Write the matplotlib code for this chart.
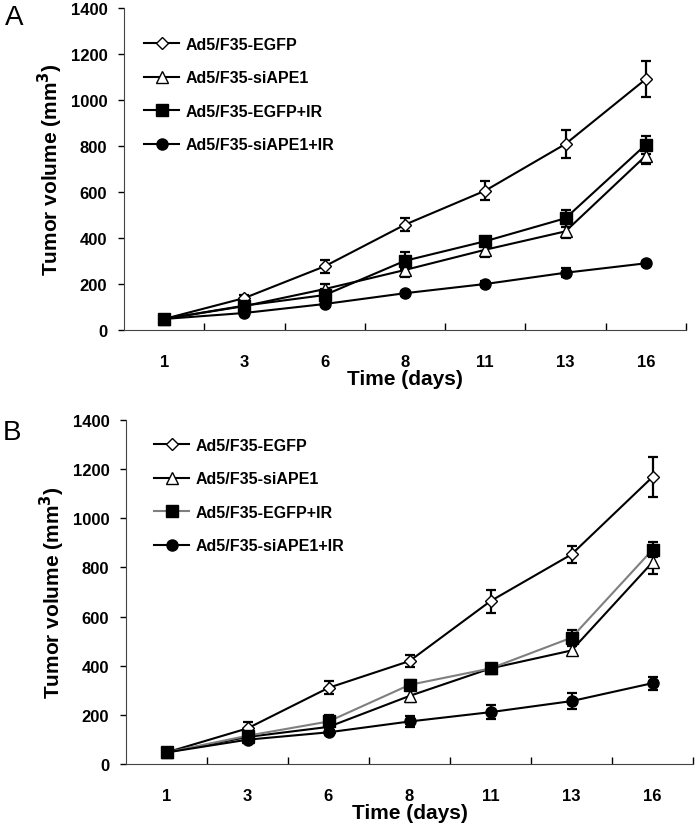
import matplotlib
matplotlib.use('Agg')

import matplotlib.pyplot as plt
import numpy as np

plt.rcParams['font.family'] = ['Liberation Sans', 'DejaVu Sans']

days = ['1', '3', '6', '8', '11', '13', '16']
series_names = ['Ad5/F35-EGFP', 'Ad5/F35-siAPE1', 'Ad5/F35-EGFP+IR', 'Ad5/F35-siAPE1+IR']

# panel A
a_egfp = [48, 139, 277, 458, 606, 809, 1091]
a_siape1 = [48, 104, 178, 261, 349, 429, 758]
a_egfp_ir = [48, 106, 152, 301, 386, 486, 806]
a_siape1_ir = [48, 74, 113, 160, 200, 249, 290]
a_egfp_err = [0, 15, 27, 29, 42, 61, 77]
a_siape1_err = [0, 10, 20, 30, 32, 30, 36]
a_egfp_ir_err = [0, 10, 25, 36, 20, 36, 39]
a_siape1_ir_err = [0, 8, 10, 10, 12, 20, 10]

# panel B
b_egfp = [47, 145, 310, 419, 663, 853, 1168]
b_siape1 = [47, 110, 151, 277, 389, 462, 821]
b_egfp_ir = [47, 115, 173, 322, 389, 514, 872]
b_siape1_ir = [47, 99, 129, 173, 211, 256, 329]
b_egfp_err = [0, 27, 26, 26, 47, 35, 80]
b_siape1_err = [0, 10, 15, 24, 20, 17, 46]
b_egfp_ir_err = [0, 12, 26, 20, 20, 31, 31]
b_siape1_ir_err = [0, 10, 12, 23, 28, 34, 27]

W, H = 696, 829
fig = plt.figure(figsize=(W / 100, H / 100), dpi=100, facecolor='white')

styles = [
    dict(marker='D', mfc='white', ms=6.5),
    dict(marker='^', mfc='white', ms=8),
    dict(marker='s', mfc='black', ms=8),
    dict(marker='o', mfc='black', ms=8),
]


def px_axes(x0, y0, x1, y1):
    return fig.add_axes([x0 / W, 1 - y1 / H, (x1 - x0) / W, (y1 - y0) / H])


def draw_panel(ax, values, errors, line_colors, legend_xy, letter, letter_xy):
    x = np.arange(len(days))
    handles = []
    for vals, errs, st, lc, name in zip(values, errors, styles, line_colors, series_names):
        ax.errorbar(x, vals, yerr=errs, fmt='none', ecolor='black',
                    elinewidth=1.6, capsize=3.5, capthick=1.6, zorder=2)
        h, = ax.plot(x, vals, color=lc, lw=1.5, marker=st['marker'],
                     mfc=st['mfc'], mec='black', mew=1.0, ms=st['ms'],
                     label=name, zorder=3)
        handles.append(h)

    ax.set_xlim(-0.5, len(days) - 0.5)
    ax.set_ylim(0, 1400)
    ax.set_yticks(range(0, 1401, 200))
    ax.set_xticks(x)
    ax.set_xticklabels(days)
    ax.set_xticks(np.arange(0.5, len(days), 1), minor=True)
    ax.tick_params(axis='x', which='major', length=0, pad=17, labelsize=12)
    ax.tick_params(axis='x', which='minor', direction='in', length=5, width=1)
    ax.tick_params(axis='y', direction='out', length=4, width=1, pad=8, labelsize=12)
    for lab in ax.get_xticklabels() + ax.get_yticklabels():
        lab.set_fontweight('bold')
    ax.spines['top'].set_visible(False)
    ax.spines['right'].set_visible(False)
    ax.spines['left'].set_color('#444444')
    ax.spines['bottom'].set_color('#444444')

    ax.set_ylabel('Tumor volume (mm$^\\mathbf{3}$)', fontsize=15, fontweight='bold', labelpad=4)
    ax.set_xlabel('Time (days)', fontsize=15, fontweight='bold', labelpad=0)

    ax.legend(handles=handles, loc='upper left', bbox_to_anchor=legend_xy,
              bbox_transform=fig.transFigure, frameon=False, borderpad=0,
              handlelength=2.2, handletextpad=0.4, labelspacing=1.15,
              prop={'weight': 'bold', 'size': 11.5})

    fig.text(letter_xy[0] / W, 1 - letter_xy[1] / H, letter, fontsize=20,
             ha='left', va='center')


ax_a = px_axes(124, 9, 686, 331)
draw_panel(ax_a,
           [a_egfp, a_siape1, a_egfp_ir, a_siape1_ir],
           [a_egfp_err, a_siape1_err, a_egfp_ir_err, a_siape1_ir_err],
           ['black', 'black', 'black', 'black'],
           (136 / W, 1 - 30 / H), 'A', (5, 18))

ax_b = px_axes(126, 421, 693, 765)
draw_panel(ax_b,
           [b_egfp, b_siape1, b_egfp_ir, b_siape1_ir],
           [b_egfp_err, b_siape1_err, b_egfp_ir_err, b_siape1_ir_err],
           ['black', 'black', '#7f7f7f', 'black'],
           (146 / W, 1 - 431 / H), 'B', (3, 433))

fig.savefig('out.png', dpi=100, facecolor='white')
